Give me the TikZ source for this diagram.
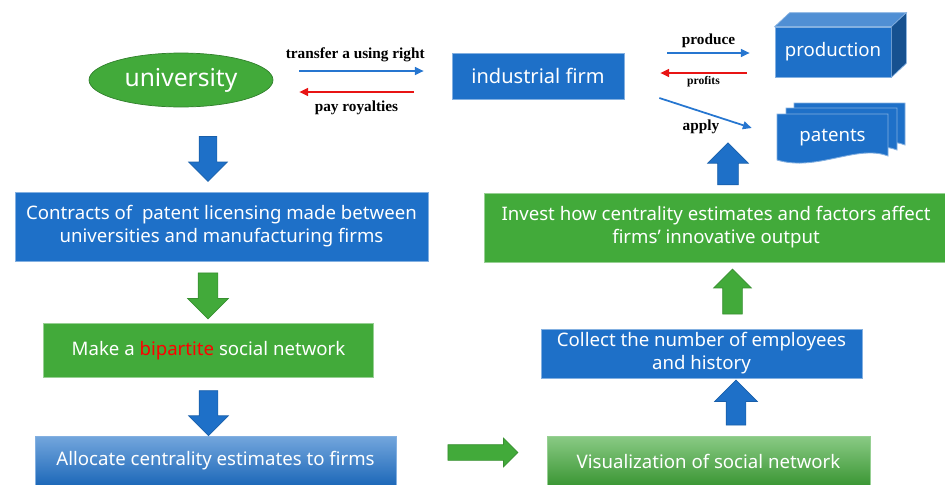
\documentclass[tikz,border=0pt]{standalone}
\usepackage{fontspec}
\setmainfont{Noto Sans}
\newfontfamily\labelfont{Liberation Serif}
\usetikzlibrary{arrows.meta}
\usetikzlibrary{shapes.geometric}
\usetikzlibrary{shapes.arrows}

\definecolor{boxblue}{RGB}{30,112,200}
\definecolor{boxgreen}{RGB}{66,170,58}
\definecolor{flowred}{RGB}{232,20,20}
\definecolor{flowblue}{RGB}{38,118,208}

\tikzset{
    textbox/.style={inner sep=0pt, text=white, align=center, font=\fontsize{10.6}{13}\selectfont},
    bluebox/.style={textbox, fill=boxblue, draw=boxblue!55!white, line width=0.4pt},
    greenbox/.style={textbox, fill=boxgreen, draw=boxgreen!55!white, line width=0.4pt},
    flow/.style={line width=1pt, -{Triangle[length=5pt, width=4.5pt]}},
    flowlabel/.style={inner sep=1pt, text=black, font=\labelfont\bfseries\fontsize{8.7}{10}\selectfont},
    % shaft is set by inner ysep, head by minimum width
    blockarrow/.style={single arrow, inner xsep=0pt, line width=0.4pt, fill=#1, draw=#1!85!black},
    blockdown/.style={blockarrow=#1, rotate=-90},
    blockup/.style={blockarrow=#1, rotate=90},
    sheet/.style={fill=boxblue, draw=boxblue!55!white, line width=0.5pt}
}

\begin{document}
\begin{tikzpicture}[x=0.02cm, y=-0.02cm]
    \clip (0,0) rectangle (945,484);

    % university and the licensee
    \node (uni) [ellipse, fill=boxgreen, draw=boxgreen!75!black, line width=0.4pt,
        minimum width=3.68cm, minimum height=1.08cm, inner sep=0pt, text=white,
        font=\fontsize{14}{16}\selectfont] at (181,80) {university};
    \node (firm) [bluebox, minimum width=3.44cm, minimum height=0.92cm,
        font=\fontsize{11.4}{14}\selectfont] at (538,76) {industrial firm};

    % production as a block
    \node (prod) [bluebox, minimum width=2.32cm, minimum height=1cm] at (833,52) {production};
    \filldraw[fill=boxblue!78!white, draw=boxblue!55!white, line width=0.4pt]
        (prod.north west) -- ++(15,-14) -- ([shift={(15,-14)}]prod.north east) -- (prod.north east) -- cycle;
    \filldraw[fill=boxblue!72!black, draw=boxblue!55!white, line width=0.4pt]
        (prod.north east) -- ++(15,-14) -- ([shift={(15,-14)}]prod.south east) -- (prod.south east) -- cycle;

    % stack of patent sheets
    \foreach \dx/\dy in {17/-11, 9/-6, 0/0} {
        \filldraw[sheet, shift={(777+\dx,114+\dy)}]
            (0,0) -- (111,0) -- (111,42) .. controls (80,30) and (40,58) .. (0,46) -- cycle;
    }
    \node (pat) [textbox, minimum width=2.22cm, minimum height=0.96cm] at (832.5,138) {patents};

    % licence and royalties
    \draw[flow, flowblue] ([shift={(26,-9)}]uni.east) -- node (lbltransfer) [flowlabel, above=0.12cm, pos=0.45]
        {transfer a using right} ([shift={(-28,-5)}]firm.west);
    \draw[flow, flowred] ([shift={(-38,16)}]firm.west) -- node (lblroyal) [flowlabel, below=0.12cm]
        {pay royalties} ([shift={(26,12)}]uni.east);

    % what the firm gets out of it
    \draw[flow, flowblue] ([shift={(43,-23)}]firm.east) -- node (lblproduce) [flowlabel, above=0.05cm]
        {produce} ([shift={(-25,1)}]prod.west);
    \draw[flow, flowred] ([shift={(-28,21)}]prod.west) -- node (lblprofits) [flowlabel, below=0.02cm,
        font=\labelfont\bfseries\fontsize{6.6}{8}\selectfont] {profits} ([shift={(36,-3)}]firm.east);
    \draw[flow, flowblue] ([shift={(35,22)}]firm.east) -- node (lblapply) [flowlabel, below=0.12cm, pos=0.45]
        {apply} ([shift={(-25,-10)}]pat.west);

    % left column
    \node (contracts) [bluebox, minimum width=8.26cm, minimum height=1.38cm] at (221.5,226.5)
        {Contracts of\ \ patent licensing made between\\universities and manufacturing firms};
    \node (bipartite) [greenbox, minimum width=6.6cm, minimum height=1.08cm] at (208.5,350.5)
        {Make a \textcolor{red}{bipartite} social network};
    \node (allocate) [textbox, top color=boxblue!62!white, bottom color=boxblue!92!black,
        draw=boxblue!55!white, line width=0.4pt, minimum width=7.22cm, minimum height=1cm] at (215.5,461)
        {Allocate centrality estimates to firms};

    % right column
    \node (visual) [textbox, top color=boxgreen!62!white, bottom color=boxgreen!88!black,
        draw=boxgreen!55!white, line width=0.4pt, minimum width=6.46cm, minimum height=1cm] at (708.5,461)
        {Visualization of social network};
    \node (collect) [bluebox, minimum width=6.42cm, minimum height=0.98cm] at (701.5,353.5)
        {Collect the number of employees\\and history};
    \node (invest) [greenbox, minimum width=9.28cm, minimum height=1.38cm] at (716,227.5)
        {Invest how centrality estimates and factors affect\\firms' innovative output};

    % block arrows between the steps
    \node (down1) [blockdown=boxblue, minimum height=0.9cm, minimum width=0.76cm,
        inner ysep=0.17cm, single arrow head extend=0.21cm] at (208,154.5) {};
    \node (down2) [blockdown=boxgreen, minimum height=0.92cm, minimum width=0.8cm,
        inner ysep=0.19cm, single arrow head extend=0.21cm] at (208,291) {};
    \node (down3) [blockdown=boxblue, minimum height=0.9cm, minimum width=0.78cm,
        inner ysep=0.18cm, single arrow head extend=0.21cm] at (208.5,408.5) {};
    \node (across) [blockarrow=boxgreen, minimum height=1.4cm, minimum width=0.56cm,
        inner ysep=0.15cm, single arrow head extend=0.13cm] at (479,452.5) {};
    \node (up1) [blockup=boxblue, minimum height=0.9cm, minimum width=0.84cm,
        inner ysep=0.19cm, single arrow head extend=0.23cm] at (736,407.5) {};
    \node (up2) [blockup=boxgreen, minimum height=0.9cm, minimum width=0.74cm,
        inner ysep=0.19cm, single arrow head extend=0.18cm] at (732.5,296.5) {};
    \node (up3) [blockup=boxblue, minimum height=0.84cm, minimum width=0.8cm,
        inner ysep=0.2cm, single arrow head extend=0.2cm] at (728,169) {};

\end{tikzpicture}
\end{document}
